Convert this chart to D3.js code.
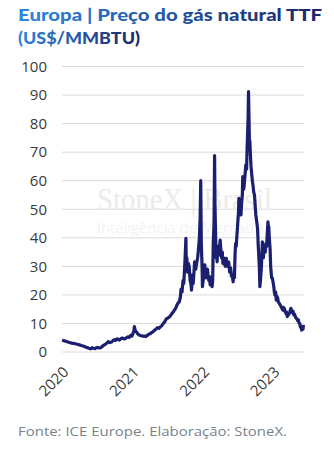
<!DOCTYPE html>
<html>
<head>
<meta charset="utf-8">
<script src="https://cdn.jsdelivr.net/npm/d3@7"></script>
<style>
  html, body { margin: 0; padding: 0; background: #ffffff; }
  svg { display: block; }
</style>
</head>
<body>
<svg id="chart" width="334" height="449"></svg>
<script>
// ---- Data ----
const titleLines = ["Europa | Preço do gás natural TTF", "(US$/MMBTU)"];
const sourceText = "Fonte: ICE Europe. Elaboração: StoneX.";
const watermarkMain = "StoneX | Brasil";
const watermarkSub = "Inteligência de Mercado";

const yTicks = [0, 10, 20, 30, 40, 50, 60, 70, 80, 90, 100];
const xTickLabels = ["2020", "2021", "2022", "2023"];

const dates = [
  "2020-01-02","2020-01-12","2020-01-20","2020-02-01","2020-02-10","2020-02-20","2020-03-01","2020-03-10","2020-03-20",
  "2020-04-01","2020-04-10","2020-04-20","2020-04-30","2020-05-10","2020-05-20","2020-05-28",
  "2020-06-05","2020-06-12","2020-06-20","2020-06-28","2020-07-05","2020-07-12","2020-07-20","2020-08-01",
  "2020-08-08","2020-08-15","2020-08-22","2020-08-28","2020-09-05","2020-09-15","2020-09-22",
  "2020-09-28","2020-10-05","2020-10-12","2020-10-20","2020-10-25","2020-11-03","2020-11-10","2020-11-18",
  "2020-11-25","2020-12-01","2020-12-08","2020-12-15","2020-12-22","2020-12-29",
  "2021-01-04","2021-01-08","2021-01-11","2021-01-14","2021-01-18","2021-01-24","2021-01-28","2021-02-04",
  "2021-02-10","2021-02-17","2021-02-25","2021-03-03","2021-03-10","2021-03-17","2021-03-25",
  "2021-04-03","2021-04-10","2021-04-17","2021-04-25","2021-05-03","2021-05-10","2021-05-18","2021-05-25",
  "2021-06-03","2021-06-10","2021-06-18","2021-06-25","2021-07-03","2021-07-10","2021-07-18","2021-07-25",
  "2021-08-03","2021-08-10","2021-08-16","2021-08-20","2021-08-26","2021-08-31","2021-09-06","2021-09-10",
  "2021-09-15","2021-09-20","2021-09-24","2021-09-28","2021-10-01","2021-10-05",
  "2021-10-07","2021-10-10","2021-10-14","2021-10-18","2021-10-22","2021-10-27","2021-11-01","2021-11-03",
  "2021-11-06","2021-11-08","2021-11-12","2021-11-16","2021-11-19","2021-11-23",
  "2021-11-25","2021-12-01","2021-12-05","2021-12-08","2021-12-14","2021-12-18","2021-12-21","2021-12-23",
  "2021-12-24","2021-12-28","2021-12-30",
  "2022-01-04","2022-01-07","2022-01-11","2022-01-14","2022-01-18","2022-01-21","2022-01-25","2022-01-28",
  "2022-02-01","2022-02-04","2022-02-08","2022-02-11","2022-02-15","2022-02-18","2022-02-21",
  "2022-02-24","2022-02-28","2022-03-03","2022-03-05","2022-03-07","2022-03-09","2022-03-11","2022-03-14",
  "2022-03-16","2022-03-20","2022-03-24","2022-03-28","2022-04-01","2022-04-05","2022-04-08","2022-04-12",
  "2022-04-15","2022-04-19","2022-04-22","2022-04-27","2022-05-03","2022-05-06","2022-05-10","2022-05-15",
  "2022-05-20","2022-05-25","2022-05-30","2022-06-03","2022-06-07","2022-06-10",
  "2022-06-14","2022-06-17","2022-06-20","2022-06-23","2022-06-28","2022-07-01","2022-07-05","2022-07-07",
  "2022-07-11","2022-07-14","2022-07-18","2022-07-21","2022-07-25","2022-07-27","2022-08-01",
  "2022-08-03","2022-08-08","2022-08-12","2022-08-16","2022-08-19","2022-08-22","2022-08-24","2022-08-26",
  "2022-08-29","2022-08-31","2022-09-02","2022-09-05","2022-09-08","2022-09-12","2022-09-15",
  "2022-09-19","2022-09-22","2022-09-26","2022-09-29","2022-10-03","2022-10-07","2022-10-12","2022-10-15",
  "2022-10-18","2022-10-21","2022-10-24","2022-10-28","2022-11-01","2022-11-04",
  "2022-11-06","2022-11-09","2022-11-11","2022-11-14","2022-11-17","2022-11-21","2022-11-24","2022-11-28",
  "2022-12-01","2022-12-05","2022-12-07","2022-12-09","2022-12-12","2022-12-14","2022-12-16","2022-12-19",
  "2022-12-21","2022-12-24","2022-12-28",
  "2023-01-04","2023-01-07","2023-01-10","2023-01-14","2023-01-17","2023-01-20","2023-01-24","2023-01-28",
  "2023-02-02","2023-02-06","2023-02-10","2023-02-14","2023-02-20","2023-02-24","2023-02-28",
  "2023-03-04","2023-03-08","2023-03-11","2023-03-15","2023-03-19","2023-03-24","2023-03-28","2023-04-03",
  "2023-04-06","2023-04-10","2023-04-14","2023-04-18","2023-04-22","2023-04-25","2023-04-30",
  "2023-05-04","2023-05-08","2023-05-12","2023-05-15","2023-05-19","2023-05-22","2023-05-26","2023-05-29",
  "2023-06-01","2023-06-03","2023-06-05","2023-06-07"
];
const prices = [
  4.2,3.9,3.8,3.5,3.3,3.1,3.0,2.9,2.7,
  2.5,2.3,2.1,1.8,1.6,1.3,1.1,
  1.5,1.3,1.2,1.5,1.6,1.4,1.5,2.2,
  2.5,2.8,3.2,3.6,3.3,3.5,4.0,
  4.3,4.1,4.6,4.4,4.2,4.7,4.9,4.6,
  4.7,5.0,5.3,5.1,5.8,5.6,
  6.6,7.5,8.9,7.8,7.2,6.8,6.3,6.0,
  5.8,5.7,5.5,5.6,5.4,5.7,6.2,
  6.4,6.8,7.1,7.6,8.0,8.5,8.3,8.8,
  9.3,10.0,10.7,11.6,11.9,12.2,12.8,13.5,
  14.3,15.0,15.8,16.5,17.2,17.5,19.0,22.0,
  21.0,25.0,24.0,29.0,33.0,39.8,
  31.0,33.0,28.0,31.0,30.0,25.0,23.5,21.7,
  24.0,27.0,24.0,28.0,31.6,30.0,
  29.0,31.6,33.0,35.0,40.0,47.0,60.0,45.0,
  38.0,30.0,22.9,
  26.0,29.0,30.5,27.0,26.0,28.0,29.0,27.0,
  25.0,26.5,23.5,26.0,24.0,22.9,25.0,
  38.0,45.0,68.8,52.0,45.0,39.0,33.0,36.0,
  31.6,37.0,34.0,36.0,39.2,35.0,33.0,35.0,
  31.0,33.0,32.0,30.0,32.8,31.0,30.0,31.5,
  28.0,29.5,26.5,27.0,24.6,27.0,
  26.0,34.0,38.0,37.0,42.0,45.0,49.0,53.8,
  50.0,52.0,48.0,52.0,55.0,61.4,57.0,
  58.0,62.0,65.5,64.0,72.0,78.0,82.0,91.2,
  80.0,72.0,74.0,69.0,65.0,62.0,60.0,
  58.0,56.0,55.0,52.0,48.0,46.0,43.3,38.0,
  34.0,30.0,22.9,26.0,30.0,35.0,
  38.6,34.0,33.0,36.0,36.9,35.0,38.0,37.0,
  41.0,45.6,43.0,44.0,40.0,38.0,36.0,30.0,
  28.1,26.0,25.8,
  23.0,21.0,20.0,21.0,18.2,19.5,19.0,17.5,
  17.0,16.5,16.0,15.5,14.7,15.6,15.2,
  14.2,13.5,14.0,12.4,13.0,13.2,14.0,15.3,
  14.2,13.8,14.3,13.0,13.2,12.5,11.8,
  11.6,11.0,11.2,10.2,10.0,8.8,8.5,7.7,
  7.9,8.3,8.0,9.5
];

// ---- Chart ----
const svg = d3.select("#chart");
const parse = d3.timeParse("%Y-%m-%d");
const series = dates.map((d, i) => ({ date: parse(d), value: prices[i] }));

const plot = { left: 62, right: 304, top: 66.5, bottom: 352 };

const x = d3.scaleTime()
  .domain([parse("2020-01-01"), parse("2023-06-10")])
  .range([plot.left, plot.right]);
const y = d3.scaleLinear().domain([0, 100]).range([plot.bottom, plot.top]);

// Title with gradient
const defs = svg.append("defs");
const grad = defs.append("linearGradient").attr("id", "titleGrad")
  .attr("x1", "0%").attr("x2", "100%").attr("y1", "0%").attr("y2", "0%");
grad.append("stop").attr("offset", "0%").attr("stop-color", "#2f86df");
grad.append("stop").attr("offset", "100%").attr("stop-color", "#1b2468");

const titleY = [21, 44];
const titleW = [304, 122];
titleLines.forEach((t, i) => {
  svg.append("text")
    .attr("x", 18).attr("y", titleY[i])
    .attr("font-family", "Lato, 'Open Sans', sans-serif")
    .attr("font-weight", 900)
    .attr("font-size", 17)
    .attr("textLength", titleW[i])
    .attr("lengthAdjust", "spacingAndGlyphs")
    .attr("fill", "url(#titleGrad)")
    .text(t);
});

// Gridlines
svg.append("g").selectAll("line").data(yTicks).join("line")
  .attr("x1", plot.left).attr("x2", plot.right)
  .attr("y1", d => y(d)).attr("y2", d => y(d))
  .attr("stroke", "#d9d9d9").attr("stroke-width", 1);

// Y axis labels
const yAxis = d3.axisLeft(y).tickValues(yTicks).tickSize(0).tickPadding(15);
const gy = svg.append("g").attr("transform", `translate(${plot.left},0)`).call(yAxis);
gy.select(".domain").remove();
gy.selectAll("text")
  .attr("font-family", "'Open Sans', 'DejaVu Sans', sans-serif")
  .attr("font-size", 15).attr("fill", "#3a3a3a");

// Watermark
svg.append("text").attr("x", 97).attr("y", 210)
  .attr("font-family", "'Liberation Serif', 'DejaVu Serif', serif")
  .attr("font-size", 31).attr("fill", "#ebebeb")
  .attr("textLength", 175).attr("lengthAdjust", "spacingAndGlyphs")
  .text(watermarkMain);
svg.append("text").attr("x", 97).attr("y", 233)
  .attr("font-family", "'Open Sans', sans-serif").attr("font-weight", 300)
  .attr("font-size", 15).attr("fill", "#eeeeee")
  .attr("textLength", 166).attr("lengthAdjust", "spacingAndGlyphs")
  .text(watermarkSub);

// Line
const line = d3.line().x(d => x(d.date)).y(d => y(d.value)).curve(d3.curveLinear);
svg.append("path").datum(series)
  .attr("d", line)
  .attr("fill", "none")
  .attr("stroke", "#1a1f70")
  .attr("stroke-width", 3.2)
  .attr("stroke-linejoin", "round");

// X axis labels
const xTicks = xTickLabels.map(s => parse(s + "-01-01"));
const xAxis = d3.axisBottom(x).tickValues(xTicks).tickSize(0).tickFormat(d3.timeFormat("%Y"));
const gx = svg.append("g").attr("transform", `translate(0,${plot.bottom})`).call(xAxis);
gx.select(".domain").remove();
gx.selectAll("text")
  .attr("font-family", "'Open Sans', 'DejaVu Sans', sans-serif")
  .attr("font-size", 15).attr("fill", "#3a3a3a")
  .attr("text-anchor", "end")
  .attr("dy", null).attr("y", 0)
  .attr("transform", "translate(7,21) rotate(-45)");

// Source
svg.append("text").attr("x", 18).attr("y", 436)
  .attr("font-family", "'Open Sans', sans-serif").attr("font-weight", 400)
  .attr("font-size", 13.5).attr("fill", "#7a838d")
  .attr("textLength", 269).attr("lengthAdjust", "spacingAndGlyphs")
  .text(sourceText);
</script>
</body>
</html>
